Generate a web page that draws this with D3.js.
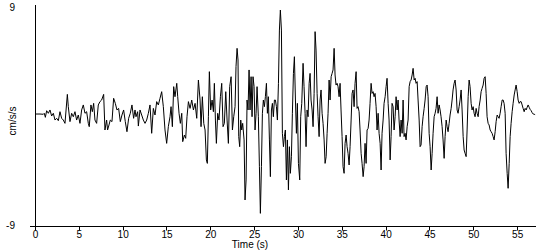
<!DOCTYPE html>
<html>
<head>
<meta charset="utf-8">
<script src="https://d3js.org/d3.v7.min.js"></script>
<style>
  body { margin: 0; background: #fff; }
  text { font-family: Arial, "Liberation Sans", sans-serif; font-size: 10px; fill: #000; }
</style>
</head>
<body>
<div id="chart"></div>
<script>
// time (s) of each sample
var times = [
  0, 0.57, 0.95, 1.06, 1.18, 1.33, 1.52, 1.71, 1.90, 2.09, 2.28, 2.47, 2.66, 2.85, 3.04, 3.23, 3.42, 3.69, 3.80, 3.99,
  4.18, 4.37, 4.56, 4.75, 4.94, 5.13, 5.32, 5.51, 5.70, 5.89, 6.08, 6.19, 6.38, 6.54, 6.69, 6.84, 7.03, 7.22, 7.41, 7.60,
  7.83, 7.98, 8.17, 8.28, 8.44, 8.59, 8.78, 8.97, 9.16, 9.35, 9.54, 9.73, 9.92, 10.11, 10.30, 10.49, 10.68, 10.87, 11.06, 11.25,
  11.41, 11.52, 11.71, 11.79, 11.98, 12.17, 12.36, 12.55, 12.74, 12.93, 13.12, 13.31, 13.50, 13.69, 13.88, 14.07, 14.26, 14.45, 14.64, 14.83,
  15.02, 15.21, 15.40, 15.52, 15.67, 15.82, 15.97, 16.17, 16.28, 16.43, 16.58, 16.74, 16.85, 17.04, 17.19, 17.34, 17.50, 17.69, 17.88, 18.07,
  18.26, 18.45, 18.64, 18.83, 18.94, 19.09, 19.25, 19.40, 19.55, 19.66, 19.78, 19.89, 20.04, 20.20, 20.35, 20.46, 20.58, 20.69, 20.84, 20.99,
  21.15, 21.30, 21.45, 21.60, 21.76, 21.91, 22.06, 22.21, 22.37, 22.52, 22.67, 22.82, 22.93, 23.05, 23.16, 23.24, 23.35, 23.47, 23.58, 23.69,
  23.85, 23.96, 24.08, 24.19, 24.30, 24.42, 24.53, 24.65, 24.76, 24.87, 24.99, 25.10, 25.22, 25.33, 25.48, 25.60, 25.71, 25.83, 25.94, 26.05,
  26.17, 26.28, 26.40, 26.51, 26.62, 26.74, 26.85, 26.97, 27.08, 27.19, 27.31, 27.42, 27.54, 27.65, 27.77, 27.88, 27.99, 28.11, 28.22, 28.34,
  28.45, 28.56, 28.68, 28.79, 28.91, 29.02, 29.13, 29.25, 29.36, 29.48, 29.59, 29.71, 29.82, 29.93, 30.05, 30.20, 30.31, 30.43, 30.58, 30.69,
  30.81, 30.92, 31.04, 31.15, 31.27, 31.38, 31.49, 31.61, 31.72, 31.84, 31.95, 32.06, 32.18, 32.29, 32.41, 32.52, 32.63, 32.75, 32.86, 32.98,
  33.09, 33.21, 33.32, 33.43, 33.55, 33.66, 33.78, 33.89, 34.00, 34.12, 34.23, 34.34, 34.46, 34.57, 34.69, 34.80, 34.91, 35.03, 35.14, 35.26,
  35.37, 35.49, 35.60, 35.71, 35.83, 35.94, 36.06, 36.17, 36.28, 36.40, 36.51, 36.63, 36.74, 36.85, 36.97, 37.08, 37.20, 37.31, 37.43, 37.54,
  37.65, 37.77, 37.88, 38.00, 38.11, 38.22, 38.34, 38.45, 38.57, 38.68, 38.79, 38.91, 39.02, 39.14, 39.25, 39.37, 39.48, 39.59, 39.71, 39.82,
  39.94, 40.05, 40.16, 40.28, 40.39, 40.51, 40.62, 40.73, 40.85, 40.96, 41.08, 41.19, 41.31, 41.42, 41.53, 41.65, 41.76, 41.88, 41.99, 42.10,
  42.22, 42.33, 42.45, 42.56, 42.68, 42.79, 42.90, 43.02, 43.13, 43.25, 43.36, 43.47, 43.59, 43.70, 43.82, 43.93, 44.04, 44.16, 44.27, 44.39,
  44.50, 44.62, 44.73, 44.84, 44.96, 45.07, 45.19, 45.30, 45.41, 45.53, 45.64, 45.75, 45.87, 45.98, 46.10, 46.21, 46.32, 46.44, 46.55, 46.67,
  46.78, 46.90, 47.01, 47.12, 47.24, 47.35, 47.47, 47.58, 47.69, 47.81, 47.92, 48.04, 48.15, 48.26, 48.38, 48.49, 48.61, 48.72, 48.84, 48.95,
  49.06, 49.18, 49.29, 49.41, 49.52, 49.63, 49.75, 49.86, 49.98, 50.09, 50.20, 50.32, 50.43, 50.55, 50.66, 50.78, 50.89, 51.00, 51.12, 51.23,
  51.35, 51.46, 51.57, 51.69, 51.80, 51.92, 52.03, 52.14, 52.26, 52.37, 52.49, 52.60, 52.72, 52.83, 52.94, 53.06, 53.17, 53.29, 53.40, 53.51,
  53.63, 53.74, 53.86, 53.97, 54.09, 54.20, 54.31, 54.43, 54.54, 54.66, 54.77, 54.88, 55.00, 55.11, 55.23, 55.34, 55.45, 55.57, 55.68, 55.80,
  55.91, 56.03, 56.14, 56.25, 56.37, 56.48, 56.60, 56.71, 56.83, 56.94, 57.05
];

// acceleration (cm/s/s)
var accel = [
  0.12, 0.12, 0.10, 0.18, -0.15, 0.39, 0.18, 0.45, -0.04, 0.18, -0.37, -0.23, -0.42, 0.31, -0.23, -0.37, -0.64, 1.72, 0.72, -0.50,
  0.18, -0.10, 0.31, -0.37, 0.04, -0.64, 0.45, 0.86, 0.18, 0.31, -0.64, -0.91, 0.86, 0.31, 0.99, -0.37, -0.64, 0.86, 1.13, 1.26,
  1.72, -1.18, -0.37, -1.18, -0.77, -0.37, -0.50, 1.40, 0.99, 0.45, 0.58, -0.50, 0.04, 0.45, -0.50, -1.32, -0.23, 0.18, 0.86, -0.23,
  0.45, -0.10, 0.31, -0.86, 0.45, 0.04, -0.37, -0.64, -0.37, 0.18, 0.86, -1.45, 0.58, 0.04, 1.13, 0.86, 1.40, 1.94, 0.72, -1.18,
  -2.27, -0.91, -0.10, 0.72, -0.91, 2.35, 1.53, 2.62, 1.53, 0.18, -0.64, 0.18, -2.13, -1.59, -1.86, -0.10, 1.13, 0.58, 1.26, 0.45,
  0.99, -0.23, 2.89, 1.26, -0.91, 1.53, -0.64, -1.18, -3.62, -3.90, -0.10, 3.57, 0.45, 1.26, 0.31, 2.62, -0.37, -2.27, 0.18, -0.37,
  1.53, 2.62, -0.91, -0.64, 1.94, -0.37, -2.27, 2.35, 3.16, -1.18, -0.10, 0.72, 3.98, 5.47, 4.52, -1.72, -2.54, -0.37, -1.18, -0.64,
  -1.99, -6.88, -5.25, 1.26, 0.45, 3.71, 0.45, 3.16, -0.10, 3.16, 2.35, -1.18, 0.18, 2.35, -0.10, -4.17, -7.97, -4.17, 0.18, 1.26,
  0.72, 1.53, 2.62, 0.18, 1.53, -1.99, -4.98, 0.45, 0.99, -0.10, 1.26, 1.26, 0.72, -0.37, 2.62, 6.96, 8.59, 6.96, -1.45, -2.54,
  -1.72, -1.18, -5.25, -1.99, -6.06, -2.54, -4.71, -3.36, 0.18, 3.43, 4.79, 1.26, -1.45, 0.99, -3.90, -5.25, -0.10, 0.99, 4.25, 2.35,
  0.18, -2.54, 0.45, -0.10, 2.62, 3.43, 1.26, 0.45, -0.91, 1.80, 6.83, 5.33, 1.80, -0.10, -1.72, 1.26, 2.08, 0.18, -0.64, -1.99,
  -3.90, -3.36, -1.45, 0.18, 2.89, 1.26, 3.16, 3.43, 3.71, 5.47, 3.30, 2.48, 2.62, 2.35, 1.53, 2.62, 0.45, -1.72, -4.17, -4.71,
  -2.27, -1.59, -2.54, -3.08, -4.03, -2.54, -0.37, 1.80, 2.08, 0.72, 2.62, 3.57, 0.58, 0.72, 0.31, -1.18, -3.08, -3.90, -4.98, -4.17,
  -2.27, -3.90, -1.18, -1.05, -0.37, 0.99, 2.62, 1.80, 1.94, 1.53, 1.80, 0.72, -1.18, 0.18, -1.45, -2.27, -4.44, -1.45, -0.37, 0.99,
  1.53, 2.35, 3.03, 0.99, -0.37, -3.62, -1.72, 0.99, 0.72, -1.18, -0.10, 1.53, 0.45, 1.26, -0.37, -1.72, -0.37, -1.45, 1.26, -1.72,
  -1.45, -1.99, -0.91, -0.37, 2.35, 2.76, 2.89, 3.30, 3.84, 2.89, 3.03, 2.62, 2.76, 1.26, -0.37, -2.54, -2.40, -0.91, -0.10, 0.58,
  1.26, 2.35, 2.48, 1.53, -1.45, -2.54, -4.44, -3.08, -1.45, -0.10, 0.18, 0.58, 1.53, 0.18, 0.86, 0.45, -0.10, -0.91, -1.99, -3.49,
  -1.72, -0.37, -0.91, -1.32, -0.64, 0.04, 0.58, 1.26, 2.08, 2.62, 2.89, 2.08, 0.45, 0.18, 0.72, 1.26, 2.08, 0.45, -1.72, -2.81,
  -3.08, -3.35, -1.18, 1.53, 2.89, 2.35, 0.99, 0.45, 0.72, 0.18, -0.10, 0.58, 0.18, -0.10, 0.72, 1.26, 1.94, 2.21, 2.48, 3.03,
  3.16, 1.80, -0.10, -0.64, -0.77, -1.18, -1.32, -1.45, -1.72, -1.99, -1.32, -0.50, 0.04, -0.10, -0.23, 0.18, 0.72, 1.26, 1.26, 0.99,
  0.18, -3.08, -4.71, -5.93, -3.90, -1.72, -0.64, 0.31, 0.99, 1.67, 2.08, 2.48, 1.94, 1.26, 0.99, 1.13, 1.13, 0.86, 0.58, 0.31,
  0.58, 0.45, 0.67, 0.86, 0.67, 0.50, 0.39, 0.23, 0.12, 0.10, 0.07
];

var xTicks = [0, 5, 10, 15, 20, 25, 30, 35, 40, 45, 50, 55];
var yTicks = [-9, 9];

var width = 550, height = 250;

var svg = d3.select('#chart')
    .append('svg')
    .attr('width', width)
    .attr('height', height);

var x = d3.scaleLinear()
    .domain([0, 57.15])
    .range([35, 536]);

var y = d3.scaleLinear()
    .domain([-9, 9])
    .range([226, 5]);

var data = times.map((t, i) => ({ t: t, v: accel[i] }));

// x axis
var xAxis = svg.append('g')
    .attr('transform', 'translate(0,226.5)');

xAxis.append('line')
    .attr('x1', 30)
    .attr('x2', 536)
    .attr('stroke', '#000');

xAxis.selectAll('line.tick')
    .data(xTicks)
    .enter()
    .append('line')
    .attr('class', 'tick')
    .attr('x1', d => Math.round(x(d)) + 0.5)
    .attr('x2', d => Math.round(x(d)) + 0.5)
    .attr('y1', 0)
    .attr('y2', 4)
    .attr('stroke', '#000');

xAxis.selectAll('text')
    .data(xTicks)
    .enter()
    .append('text')
    .attr('x', d => x(d) + 0.5)
    .attr('y', 11)
    .attr('text-anchor', 'middle')
    .text(d => d);

// y axis
svg.append('line')
    .attr('x1', 35.5)
    .attr('x2', 35.5)
    .attr('y1', y(9))
    .attr('y2', y(-9))
    .attr('stroke', '#000');

svg.selectAll('text.ylab')
    .data(yTicks)
    .enter()
    .append('text')
    .attr('class', 'ylab')
    .attr('x', 15)
    .attr('y', d => d < 0 ? y(d) + 3 : y(d) + 6)
    .attr('text-anchor', 'end')
    .text(d => d);

svg.append('text')
    .attr('transform', 'translate(16,121) rotate(-90)')
    .attr('text-anchor', 'middle')
    .text('cm/s/s');

svg.append('text')
    .attr('x', 250)
    .attr('y', 248)
    .attr('text-anchor', 'middle')
    .text('Time (s)');

// trace
var line = d3.line()
    .x(d => x(d.t))
    .y(d => y(d.v));

svg.append('path')
    .datum(data)
    .attr('d', line)
    .attr('fill', 'none')
    .attr('stroke', '#000')
    .attr('stroke-width', 1);
</script>
</body>
</html>
